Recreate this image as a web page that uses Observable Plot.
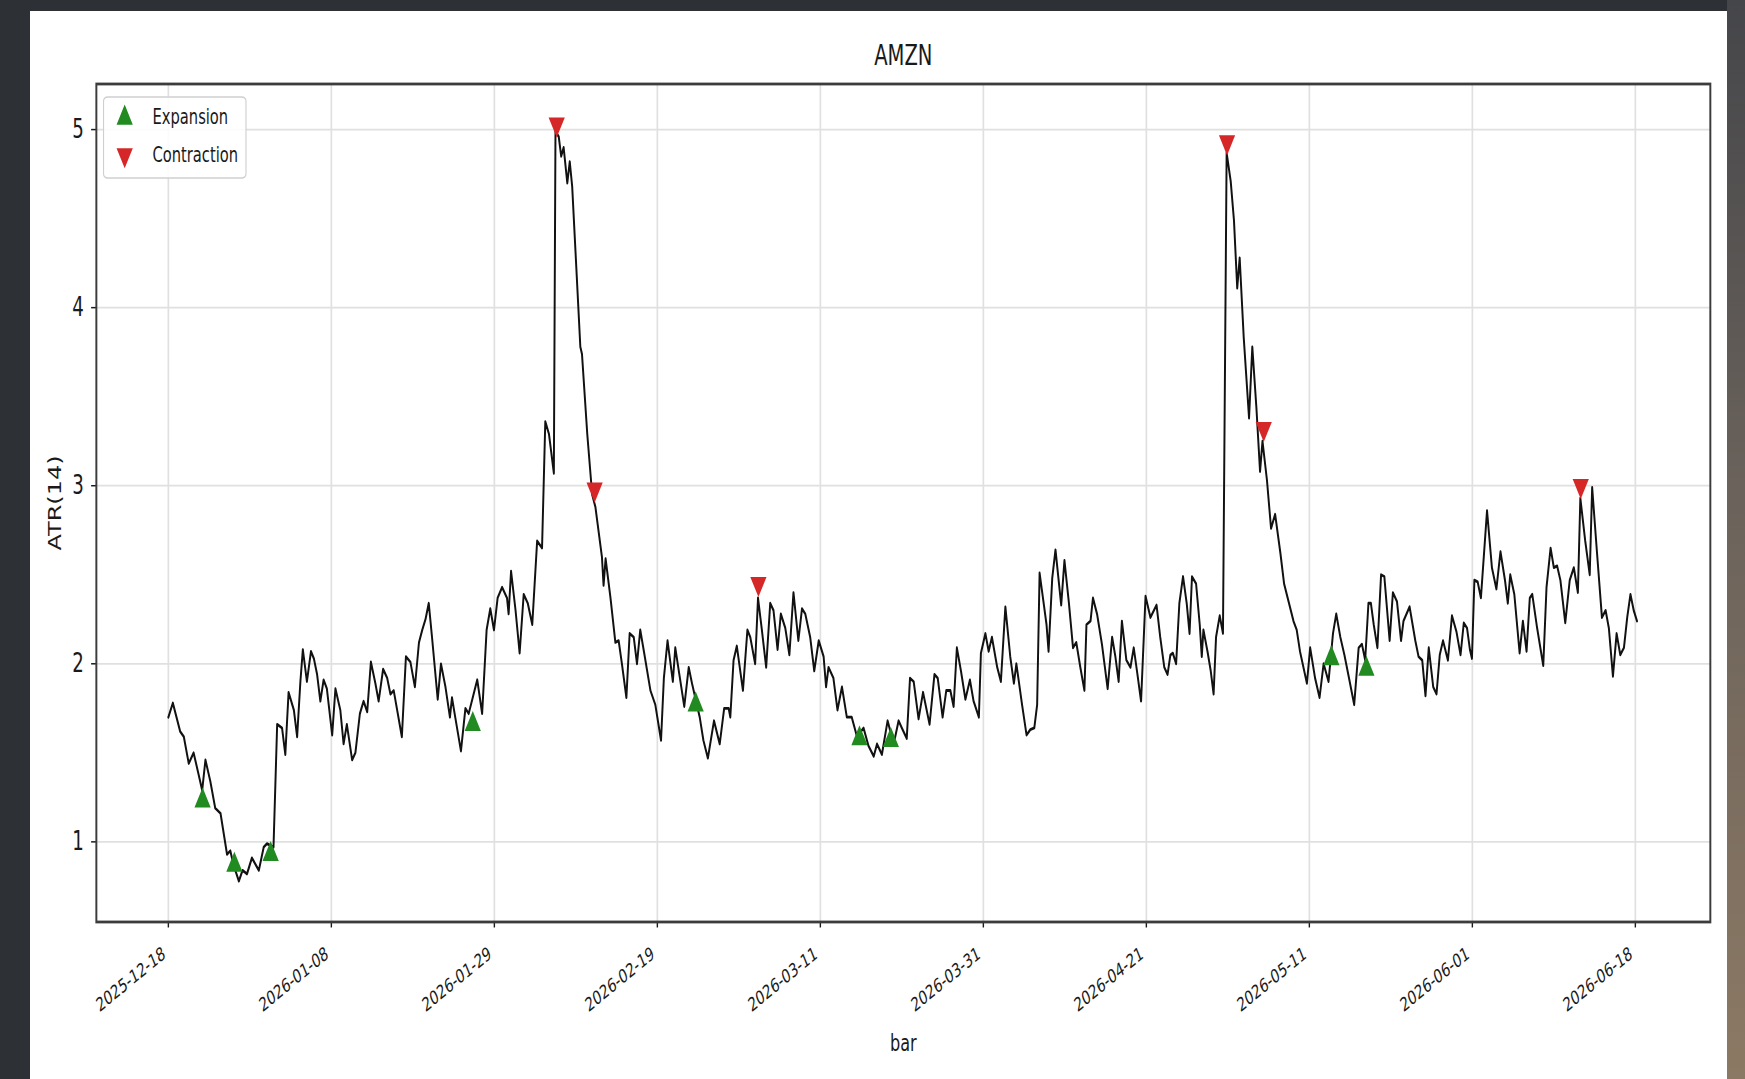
<!DOCTYPE html>
<html><head><meta charset="utf-8">
<script src="https://cdn.jsdelivr.net/npm/d3@7"></script>
<script src="https://cdn.jsdelivr.net/npm/@observablehq/plot@0.6"></script>
<style>
html,body{margin:0;padding:0;}
body{width:1745px;height:1079px;overflow:hidden;background:#2d3035;position:relative;font-family:"DejaVu Sans",sans-serif;}
#bgright{position:absolute;left:1727px;top:0;width:18px;height:1079px;background:linear-gradient(#45464a,#6a625b 45%,#8c7964);}
#card{position:absolute;left:30px;top:11px;width:1697px;height:1068px;background:#fff;}
#chart{position:absolute;left:0;top:0;width:2493px;height:1079px;transform:scaleX(0.7);transform-origin:0 0;}
</style></head><body>
<div id="bgright"></div><div id="card"></div><div id="chart"></div>
<script>
// ---- data (bar index, ATR(14)) ----
const atrPart1 = [[0,1.70],[1.1,1.78],[2.9,1.62],[3.8,1.59],[5.0,1.44],[6.2,1.50],[7.4,1.38],[8.3,1.29],[9.1,1.46],[10.3,1.34],[11.5,1.19],[12.8,1.16],[14.4,0.93],[15.2,0.95],[16.0,0.87],[17.3,0.78],[18.2,0.84],[19.3,0.82],[20.5,0.91],[22.2,0.84],[23.4,0.97],[24.2,0.99],[25.8,0.97],[26.7,1.66],[27.9,1.64],[28.7,1.49],[29.5,1.84],[30.8,1.74],[31.6,1.59],[32.4,1.90],[33.0,2.08],[34.0,1.90],[35.0,2.07],[35.7,2.03],[36.5,1.94],[37.3,1.79],[38.1,1.91],[38.9,1.86],[40.2,1.60],[41.0,1.86],[42.2,1.74],[43.0,1.55],[43.8,1.66],[45.1,1.46],[45.9,1.50],[47.0,1.72],[47.9,1.79],[48.8,1.73],[49.7,2.01],[50.8,1.89],[51.6,1.79],[52.7,1.97],[53.7,1.92],[54.5,1.83],[55.3,1.85],[56.3,1.72],[57.3,1.59],[58.3,2.04],[59.4,2.01],[60.5,1.87],[61.5,2.12],[62.3,2.19],[63.1,2.25],[63.9,2.34],[64.7,2.15],[66.1,1.80],[66.9,2.00],[68.0,1.87],[69.1,1.70],[69.6,1.81],[70.4,1.70],[71.8,1.51],[72.9,1.75],[73.7,1.72],[75.8,1.91],[77.0,1.72],[78.1,2.19],[79.0,2.31],[79.9,2.19],[80.8,2.37],[81.9,2.43],[83.1,2.37],[83.5,2.28],[84.1,2.52],[85.2,2.30],[86.2,2.06],[87.2,2.39],[88.2,2.34],[89.3,2.22],[90.5,2.69],[91.7,2.65]];
const atrPart2 = [[92.5,3.36],[93.4,3.29],[94.6,3.07],[95.0,4.99],[95.8,4.96],[96.4,4.85],[97.0,4.90],[97.9,4.70],[98.5,4.82],[99.1,4.68],[99.9,4.32],[101.1,3.78],[101.5,3.74],[102.8,3.29],[104.0,2.95],[104.8,2.88],[106.4,2.60],[106.8,2.44],[107.3,2.59],[108.5,2.37],[109.7,2.12],[110.5,2.13],[111.3,2.00],[112.4,1.81],[113.2,2.17],[114.2,2.15],[115.0,2.00],[115.8,2.19],[116.7,2.07],[118.3,1.85],[119.5,1.77],[120.9,1.57],[121.6,1.92],[122.5,2.13],[123.8,1.90],[124.4,2.09],[125.4,1.94],[126.6,1.76],[127.7,1.98],[128.5,1.89],[130.4,1.70],[131.3,1.57],[132.4,1.47],[133.9,1.68],[135.3,1.55],[136.4,1.75],[137.5,1.75],[137.9,1.70],[138.7,2.02],[139.5,2.10],[141.0,1.85],[142.1,2.19],[142.8,2.15],[144.0,2.00],[144.7,2.37],[145.6,2.20],[146.7,1.98],[147.7,2.34],[148.5,2.30],[149.5,2.08],[150.3,2.28],[151.4,2.20],[152.4,2.05],[153.4,2.40],[154.6,2.13],[155.5,2.31],[156.3,2.28],[157.5,2.15],[158.5,1.96],[159.6,2.13],[160.8,2.04],[161.4,1.87],[162.0,1.98],[163.2,1.92],[164.2,1.74],[165.3,1.87],[166.5,1.70],[167.7,1.70],[169.0,1.59],[170.6,1.64],[171.8,1.54],[173.1,1.48],[173.9,1.55],[175.1,1.49],[176.5,1.68],[178.0,1.55],[179.2,1.68],[180.0,1.64],[181.2,1.58]];
const atrPart3 = [[182.0,1.92],[182.9,1.90],[184.1,1.69],[185.2,1.84],[186.8,1.66],[188.0,1.94],[188.8,1.92],[190.0,1.70],[190.9,1.85],[191.9,1.85],[192.7,1.76],[193.5,2.09],[194.5,1.96],[195.6,1.80],[196.7,1.91],[197.6,1.79],[198.9,1.70],[199.4,2.06],[200.5,2.17],[201.3,2.07],[202.1,2.15],[203.4,1.98],[204.3,1.90],[205.4,2.32],[206.6,2.04],[207.5,1.89],[208.1,2.00],[209.5,1.77],[210.6,1.60],[211.5,1.63],[212.5,1.64],[213.2,1.77],[213.8,2.51],[214.8,2.34],[215.5,2.22],[216.0,2.07],[216.9,2.48],[217.7,2.64],[219.1,2.33],[219.9,2.58],[221.0,2.34],[222.0,2.09],[222.8,2.12],[223.8,1.98],[224.8,1.85],[225.3,2.22],[226.3,2.24],[226.9,2.37],[227.9,2.28],[229.1,2.11],[230.5,1.86],[231.6,2.15],[232.4,2.04],[233.2,1.90],[234.0,2.24],[235.1,2.02],[236.1,1.98],[236.9,2.09],[237.7,1.96],[238.7,1.79],[239.8,2.38],[241.0,2.26],[242.5,2.33],[243.4,2.15],[244.4,1.98],[245.2,1.94],[245.9,2.05],[246.5,2.06],[247.3,2.00],[248.1,2.34],[249.0,2.49],[249.9,2.34],[250.6,2.17],[251.2,2.49],[252.2,2.45],[253.1,2.22],[253.6,2.04],[254.0,2.19],[255.0,2.07],[255.8,1.96],[256.5,1.83],[257.1,2.15],[258.0,2.27],[258.8,2.17]];
const atrPart4 = [[259.7,4.87],[260.7,4.71],[261.5,4.49],[262.3,4.11],[262.9,4.28],[263.9,3.83],[265.2,3.38],[266.0,3.78],[267.0,3.44],[267.9,3.08],[268.5,3.25],[269.6,3.03],[270.6,2.76],[271.6,2.84],[272.9,2.62],[273.8,2.45],[274.9,2.35],[276.1,2.24],[276.9,2.19],[277.7,2.07],[279.4,1.89],[280.2,2.09],[281.4,1.92],[282.5,1.81],[283.5,2.00],[284.7,1.90],[285.8,2.17],[286.6,2.28],[287.6,2.15],[288.6,2.05],[289.9,1.90],[291.0,1.77],[292.1,2.09],[292.9,2.11],[293.7,2.02],[294.5,2.34],[295.1,2.34],[295.8,2.22],[296.7,2.09],[297.6,2.50],[298.4,2.49],[299.7,2.13],[300.5,2.40],[301.5,2.35],[302.5,2.13],[303.1,2.24],[304.6,2.32],[306.0,2.13],[306.8,2.04],[307.7,2.02],[308.5,1.82],[309.3,2.09],[310.4,1.87],[311.2,1.83],[312.0,2.05],[312.8,2.13],[314.0,2.02],[315.0,2.27],[316.1,2.18],[317.1,2.05],[317.9,2.23],[318.7,2.20],[319.4,2.08],[319.9,2.03],[320.5,2.47],[321.3,2.46],[322.1,2.37],[323.6,2.86],[324.8,2.54],[325.9,2.42],[326.9,2.63],[328.0,2.47],[328.7,2.34],[329.3,2.50],[330.3,2.39],[331.6,2.06],[332.4,2.24],[333.3,2.07],[334.1,2.37],[334.7,2.39],[335.9,2.20],[337.4,1.99],[338.2,2.43],[339.2,2.65],[340.0,2.54],[340.8,2.55],[341.6,2.47],[342.8,2.23],[343.9,2.47],[344.9,2.54],[345.9,2.40],[346.5,2.93],[347.7,2.69],[348.8,2.50],[349.4,2.99],[350.6,2.62],[351.8,2.26],[352.7,2.30],[353.5,2.20],[354.5,1.93],[355.4,2.17],[356.3,2.05],[357.2,2.09],[358.0,2.26],[358.8,2.39],[359.6,2.30],[360.4,2.24]];
const expansionPts = [[8.4,1.23],[16.2,0.87],[25.1,0.93],[74.7,1.66],[129.4,1.77],[169.6,1.58],[177.3,1.57],[285.4,2.03],[294.0,1.97]];
const contractionPts = [[95.3,5.03],[104.6,2.98],[144.8,2.45],[259.8,4.93],[268.8,3.32],[346.6,3.00]];
const tickBars = [0,40,80,120,160,200,240,280,320,360];
const tickLabels = ["2025-12-18","2026-01-08","2026-01-29","2026-02-19","2026-03-11","2026-03-31","2026-04-21","2026-05-11","2026-06-01","2026-06-18"];
const yTicks = [1,2,3,4,5];
const titleText = "AMZN";
const xLabel = "bar";
const yLabel = "ATR(14)";
const legendNames = ["Expansion","Contraction"];
const colors = {expansion:"#218a21", contraction:"#d62728"};

// ---- build ----
const S = 0.7;                 // horizontal squash of the original image
const W = 1745 / S, H = 1079;
const toRows = a => a.map(([bar, atr]) => ({bar, atr}));
const line = toRows([...atrPart1, ...atrPart2, ...atrPart3, ...atrPart4]);
const exp = toRows(expansionPts);
const con = toRows(contractionPts);
const triDown = {draw(ctx, size){const y=Math.sqrt(size/(3*Math.sqrt(3)));ctx.moveTo(0,2*y);ctx.lineTo(-Math.sqrt(3)*y,-y);ctx.lineTo(Math.sqrt(3)*y,-y);ctx.closePath();}};
const R = 8.6;
const fmtX = d => tickLabels[tickBars.indexOf(d)];
const txt = "#1a1a1a";

const chart = Plot.plot({
  width: W, height: H,
  marginLeft: 96/S, marginRight: W - 1710/S, marginTop: 83.5, marginBottom: H - 921.5,
  style: {background: "transparent", fontFamily: "'DejaVu Sans', sans-serif", overflow: "visible", color: txt},
  x: {domain: [-17.67, 378.4]},
  y: {domain: [0.55, 5.256]},
  marks: [
    Plot.gridX(tickBars, {stroke: "#e0e0e0", strokeOpacity: 1, strokeWidth: 2.4}),
    Plot.gridY(yTicks, {stroke: "#e0e0e0", strokeOpacity: 1, strokeWidth: 1.8}),
    Plot.axisX(tickBars, {tickFormat: () => "", tickSize: 6, label: null, strokeWidth: 2}),
    Plot.axisX(tickBars, {tickFormat: fmtX, tickRotate: -30, textAnchor: "end", lineAnchor: "middle", fontSize: 19, tickSize: 0, tickPadding: 30, dx: -6, label: null}),
    Plot.axisY(yTicks, {tickFormat: d => String(d), fontSize: 26, tickSize: 7, tickPadding: 11, label: null, strokeWidth: 1.5}),
    Plot.line(line, {x: "bar", y: "atr", stroke: "#111", strokeWidth: 2.8, strokeLinejoin: "round"}),
    Plot.dot(exp, {x: "bar", y: "atr", symbol: "triangle", r: R, fill: colors.expansion, stroke: "none"}),
    Plot.dot(con, {x: "bar", y: "atr", symbol: triDown, r: R, fill: colors.contraction, stroke: "none"}),
    Plot.frame({stroke: "#3c3c3c", strokeWidth: 2.8}),
    Plot.text([titleText], {frameAnchor: "top", dy: -27.8, fontSize: 28, lineAnchor: "middle", fill: txt}),
    Plot.text([xLabel], {frameAnchor: "bottom", dy: 121.5, fontSize: 23, lineAnchor: "middle", fill: txt}),
    Plot.text([yLabel], {frameAnchor: "left", rotate: -90, dx: -57.5, fontSize: 24, textAnchor: "middle", lineAnchor: "middle", fill: txt, letterSpacing: 1.5})
  ]
});
document.getElementById("chart").appendChild(chart);

// ---- legend (upper left, like matplotlib) ----
const svg = d3.select(chart);
const lg = svg.append("g").attr("font-family", "'DejaVu Sans', sans-serif").attr("text-anchor", "start");
lg.append("rect").attr("x", 147.9).attr("y", 97).attr("width", 203.5).attr("height", 81)
  .attr("rx", 6).attr("ry", 4).attr("fill", "#fff").attr("fill-opacity", 0.85)
  .attr("stroke", "#cfcfcf").attr("stroke-width", 1.6);
const symArea = R * R * Math.PI;
lg.append("path").attr("transform", "translate(178.1,118)")
  .attr("d", d3.symbol(d3.symbolTriangle, symArea)()).attr("fill", colors.expansion);
lg.append("path").attr("transform", "translate(178.1,155)")
  .attr("d", d3.symbol(triDown, symArea)()).attr("fill", colors.contraction);
legendNames.forEach((n, i) => {
  lg.append("text").attr("x", 217.9).attr("y", i === 0 ? 117 : 155).attr("dy", "0.35em")
    .attr("font-size", 21).attr("fill", txt).text(n);
});
</script>
</body></html>
